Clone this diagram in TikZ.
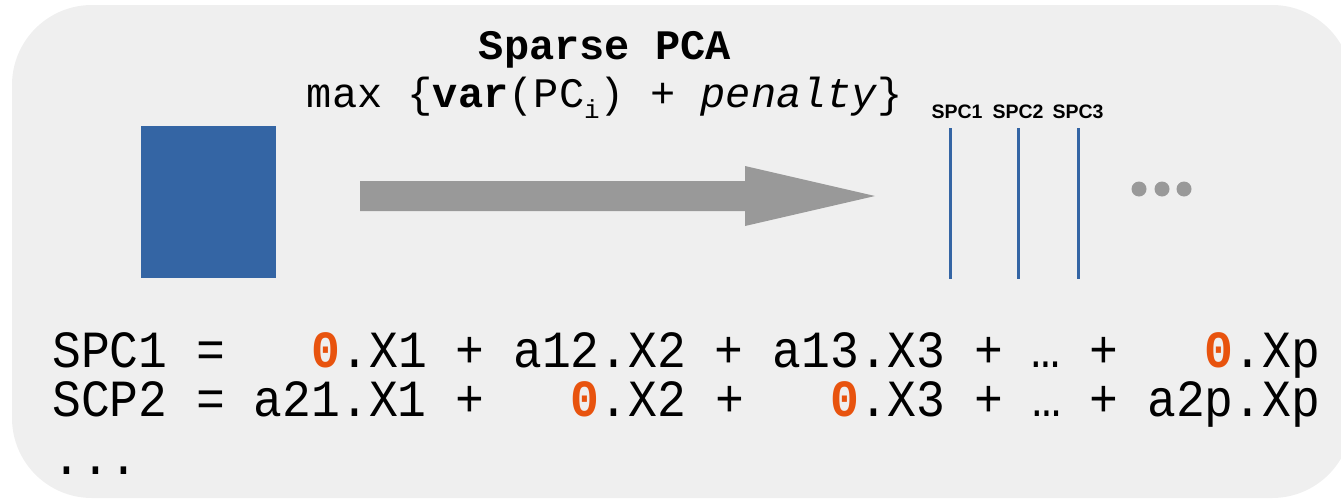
\documentclass[tikz,border=0pt]{standalone}
\usepackage{fontspec}
\setmainfont{Liberation Sans}
\setmonofont{Liberation Mono}
\newfontfamily\eqmono[FakeStretch=0.92]{Liberation Mono}
\definecolor{bg}{RGB}{239,239,239}
\definecolor{pcblue}{RGB}{52,101,164}
\definecolor{agray}{RGB}{153,153,153}
\definecolor{zorange}{RGB}{232,83,14}
\newcommand{\zr}{\textcolor{zorange}{\textbf{0}}}
\tikzset{
  eqline/.style={anchor=base west, inner sep=0pt, font=\eqmono\fontsize{52.2}{52.2}\selectfont},
  spclabel/.style={anchor=base, inner sep=0pt, font=\bfseries\fontsize{19.5}{19.5}\selectfont},
  spcline/.style={draw=pcblue, line width=3pt},
  dotmark/.style={circle, fill=agray, inner sep=0pt, minimum size=15pt},
}
\begin{document}
\begin{tikzpicture}[x=1pt,y=-1pt]
\useasboundingbox (0,0) rectangle (1341,501);
\fill[bg, rounded corners=80pt] (12,5) rectangle (1352,498);
% data matrix
\node[fill=pcblue, inner sep=0pt, minimum width=135pt, minimum height=152pt, anchor=north west] (data) at (141,126) {};
% big arrow
\fill[agray] (360,181) -- (745,181) -- (745,166) -- (875,196) -- (745,226) -- (745,211) -- (360,211) -- cycle;
% title
\node[anchor=base, inner sep=0pt, font=\ttfamily\bfseries\fontsize{42}{42}\selectfont] (title) at (605,59) {Sparse PCA};
\node[anchor=base, inner sep=0pt, font=\ttfamily\fontsize{42}{42}\selectfont] (obj) at (605,107)
  {max \{\textbf{var}(PC\raisebox{-11pt}{\fontsize{26}{26}\selectfont i}) + \textit{penalty}\}};
% sparse components
\node[spclabel] (l1) at (957,118) {SPC1};
\node[spclabel] (l2) at (1018,118) {SPC2};
\node[spclabel] (l3) at (1078,118) {SPC3};
\coordinate (a1) at (950,128); \coordinate (b1) at (950,279);
\coordinate (a2) at (1018,128); \coordinate (b2) at (1018,279);
\coordinate (a3) at (1078,128); \coordinate (b3) at (1078,279);
\draw[spcline] (a1) -- (b1);
\draw[spcline] (a2) -- (b2);
\draw[spcline] (a3) -- (b3);
\node[dotmark] (d1) at (1139,189) {};
\node[dotmark] (d2) at (1162,189) {};
\node[dotmark] (d3) at (1184,189) {};
% equations
\node[eqline] (eq1) at (52,367) {SPC1 =~~~\zr.X1 + a12.X2 + a13.X3 + … +~~~\zr.Xp};
\node[eqline] (eq2) at (52,416) {SCP2 = a21.X1 +~~~\zr.X2 +~~~\zr.X3 + … + a2p.Xp};
\node[eqline] (eq3) at (52,474) {...};
\end{tikzpicture}
\end{document}
